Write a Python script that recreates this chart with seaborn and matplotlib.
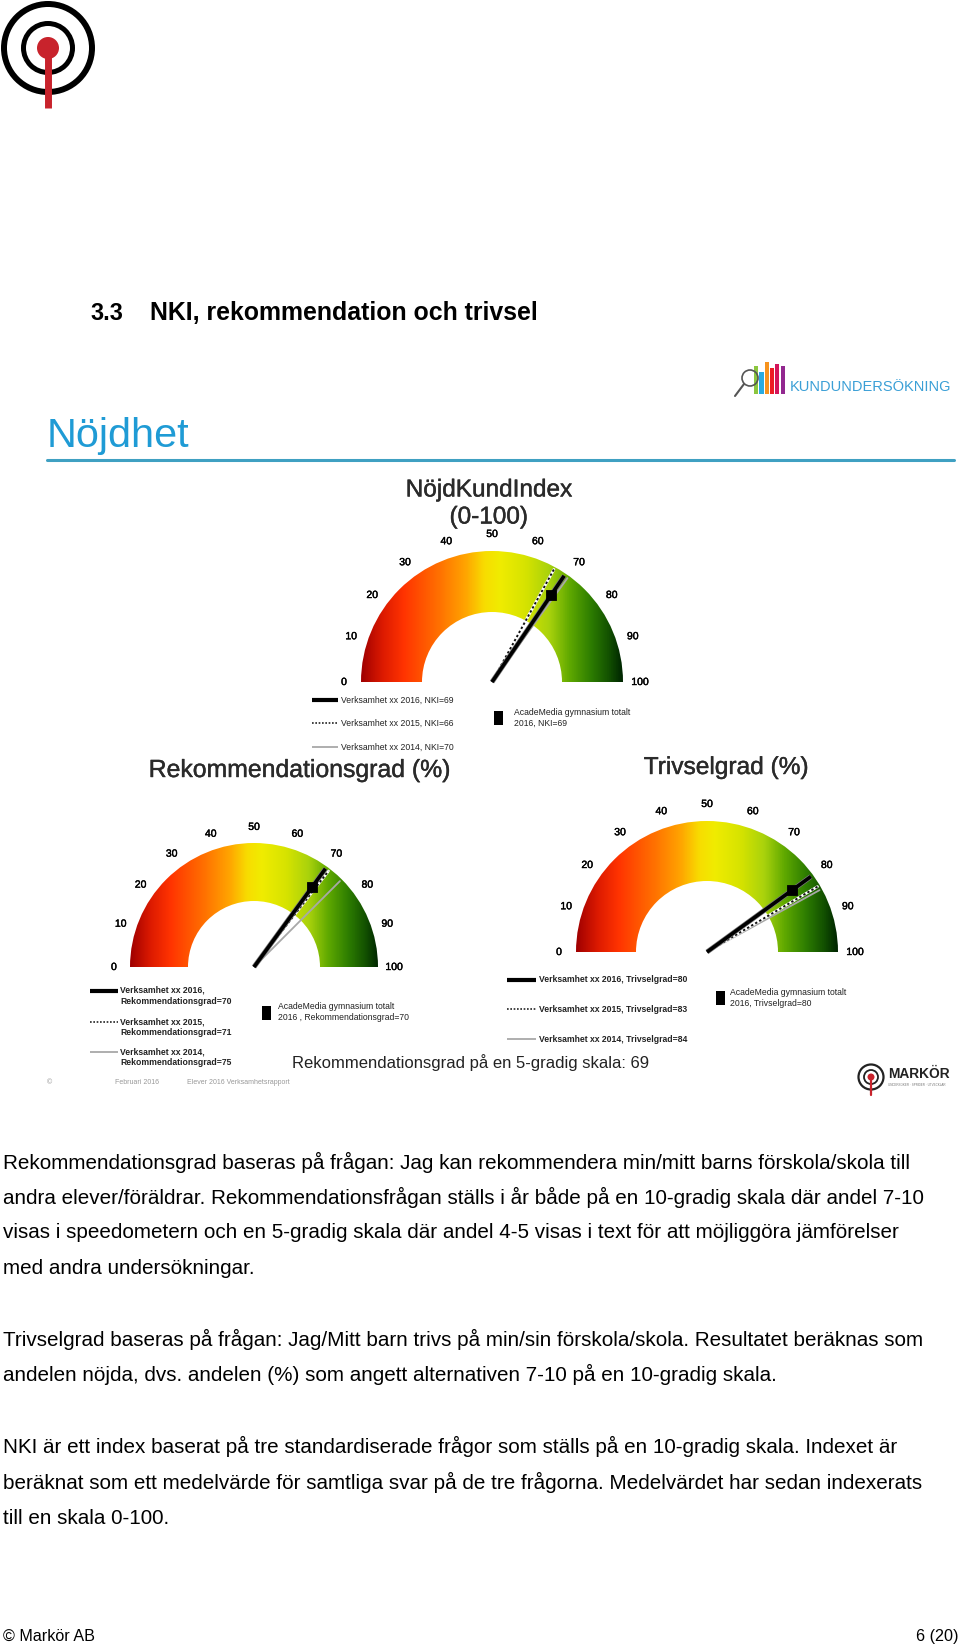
import numpy as np
import pandas as pd
import matplotlib
matplotlib.use("Agg")
import matplotlib.pyplot as plt
import matplotlib.patheffects as pe
import seaborn as sns
from matplotlib.patches import Wedge, Circle, Rectangle
from matplotlib.colors import LinearSegmentedColormap

# ---------------- data ----------------
measure_names = ["NKI", "Rekommendationsgrad", "Trivselgrad"]
gauge_titles = ["NöjdKundIndex\n(0-100)", "Rekommendationsgrad (%)", "Trivselgrad (%)"]
years = ["2016", "2015", "2014"]
values_2016 = [69, 70, 80]
values_2015 = [66, 71, 83]
values_2014 = [70, 75, 84]
academedia_2016 = [69, 70, 80]
tick_values = [0, 10, 20, 30, 40, 50, 60, 70, 80, 90, 100]
rek_5_scale = 69

body_lines = [
    "Rekommendationsgrad baseras på frågan: Jag kan rekommendera min/mitt barns förskola/skola till",
    "andra elever/föräldrar. Rekommendationsfrågan ställs i år både på en 10-gradig skala där andel 7-10",
    "visas i speedometern och en 5-gradig skala där andel 4-5 visas i text för att möjliggöra jämförelser",
    "med andra undersökningar.",
    "Trivselgrad baseras på frågan: Jag/Mitt barn trivs på min/sin förskola/skola. Resultatet beräknas som",
    "andelen nöjda, dvs. andelen (%) som angett alternativen 7-10 på en 10-gradig skala.",
    "NKI är ett index baserat på tre standardiserade frågor som ställs på en 10-gradig skala. Indexet är",
    "beräknat som ett medelvärde för samtliga svar på de tre frågorna. Medelvärdet har sedan indexerats",
    "till en skala 0-100.",
]
body_y = [1162, 1197, 1232, 1268, 1339, 1374, 1446, 1482, 1518]

# ---------------- layout ----------------
W, H = 960, 1647
sns.set_theme(style="white")
plt.rcParams["font.family"] = ["Liberation Sans", "DejaVu Sans"]

fig = plt.figure(figsize=(W / 100, H / 100), dpi=100)
fig.patch.set_facecolor("white")
axp = fig.add_axes([0, 0, 1, 1])
axp.set_xlim(0, W)
axp.set_ylim(H, 0)
axp.axis("off")
renderer = fig.canvas.get_renderer()


def fit(x, y, s, width, ha="left", va="center", ax=None, **kw):
    ax = ax or axp
    t = ax.text(x, y, s, fontsize=10, ha=ha, va=va, **kw)
    w = t.get_window_extent(renderer).width
    t.set_fontsize(10 * width / w)
    return t


# --- top-left logo
axp.add_patch(Circle((48, 48), 44, fill=False, lw=4.3, ec="black"))
axp.add_patch(Circle((48, 48), 24.5, fill=False, lw=3.6, ec="black"))
axp.plot([48, 48], [50, 108], color="#c8232c", lw=5.0, solid_capstyle="butt")
axp.add_patch(Circle((48, 48), 11, color="#c8232c", lw=0))

# --- section title
fit(90, 313, "3.3", 33, fontweight="bold", color="black")
fit(150, 313, "NKI, rekommendation och trivsel", 389, fontweight="bold", color="black")

# --- KUNDUNDERSÖKNING logo
bar_cols = ["#8cc63f", "#29abe2", "#f7931e", "#ed1c24", "#d4145a", "#92278f"]
bar_tops = [366, 372, 362, 368, 364, 366]
for i, (c, t) in enumerate(zip(bar_cols, bar_tops)):
    axp.add_patch(Rectangle((754 + i * 5.3, t), 4.2, 394 - t, color=c, lw=0))
axp.add_patch(Circle((750, 378), 8, fill=False, ec="#555555", lw=1.2))
axp.plot([744, 735], [384, 396], color="#555555", lw=1.5)
fit(790, 387, "KUNDUNDERSÖKNING", 161, color="#3a9fd6", fontstretch="condensed")

# --- Nöjdhet header
fit(47, 436, "Nöjdhet", 143, color="#1f9bd5")
axp.plot([47, 954], [460, 460], color="#3fa0c2", lw=2.2)

# --- gauges
cmap = LinearSegmentedColormap.from_list("gauge", [
    (0.00, "#a00000"), (0.08, "#dc1a00"), (0.16, "#ff3300"), (0.30, "#ff7200"),
    (0.40, "#ffa500"), (0.47, "#f8dc00"), (0.53, "#f0ec00"), (0.63, "#d6e300"),
    (0.72, "#a9d20c"), (0.80, "#5ea800"), (0.88, "#2d7d00"), (0.95, "#125000"),
    (1.00, "#002600")])
grad = np.linspace(0, 1, 400).reshape(1, -1)

geom = [(492, 682, 131, 70), (254, 967, 124, 66), (707, 952, 131, 71)]
title_geom = [(489, 504, 167), (299, 770, 303), (726, 768, 166)]

legend_geom = [
    dict(x0=312, x1=338, tx=341, ys=[700, 723, 747], sq=(498, 718), sqt=(514, 718)),
    dict(x0=90, x1=118, tx=120, ys=[991, 1022, 1052], sq=(266, 1013), sqt=(278, 1012)),
    dict(x0=507, x1=536, tx=539, ys=[980, 1009, 1039], sq=(720, 998), sqt=(730, 998)),
]

title_fx = [pe.withStroke(linewidth=0.3, foreground="#2a2a2a")]


def pt(v, L):
    th = np.pi * (1 - v / 100.0)
    return L * np.cos(th), L * np.sin(th)


for g in range(3):
    cx, cy, R, r = geom[g]
    ax = fig.add_axes([(cx - 1.45 * R) / W, 1 - (cy + 0.15 * R) / H,
                       2.9 * R / W, 1.4 * R / H])
    ax.set_xlim(-1.45, 1.45)
    ax.set_ylim(-0.15, 1.25)
    ax.axis("off")
    ax.patch.set_alpha(0)
    wedge = Wedge((0, 0), 1.0, 0, 180, width=1 - r / R, transform=ax.transData)
    im = ax.imshow(grad, cmap=cmap, extent=(-1, 1, 0, 1), aspect="auto",
                   interpolation="bilinear", zorder=1)
    im.set_clip_path(wedge)
    ax.set_xlim(-1.45, 1.45)
    ax.set_ylim(-0.15, 1.25)

    for tv in tick_values:
        tx, ty = pt(tv, 1.13)
        ax.text(tx, ty, str(tv), fontsize=7.5, ha="center", va="center", color="black",
                path_effects=[pe.withStroke(linewidth=0.3, foreground="black")])

    # needles
    L = 0.98
    x2, y2 = pt(values_2014[g], L)
    sns.lineplot(x=[0, x2], y=[0, y2], sort=False, ax=ax, color="#a8a8a8", lw=1.3, zorder=3)
    x1, y1 = pt(values_2015[g], L)
    sns.lineplot(x=[0, x1], y=[0, y1], sort=False, ax=ax, color="white", lw=2.0, zorder=3)
    sns.lineplot(x=[0, x1], y=[0, y1], sort=False, ax=ax, color="#111111", lw=1.4,
                 linestyle=(0, (1.2, 1.2)), zorder=3)
    x0, y0 = pt(values_2016[g], L)
    sns.lineplot(x=[0, x0], y=[0, y0], sort=False, ax=ax, color="#7a7a7a", lw=3.6, zorder=4,
                 solid_capstyle="butt")
    sns.lineplot(x=[0, x0], y=[0, y0], sort=False, ax=ax, color="black", lw=2.6, zorder=4,
                 solid_capstyle="butt")
    mx, my = pt(academedia_2016[g], 0.80)
    sns.scatterplot(x=[mx], y=[my], marker="s", s=55, color="black", edgecolor="black",
                    ax=ax, zorder=5)

    # title
    tx, ty, tw = title_geom[g]
    fit(tx, ty, gauge_titles[g], tw, ha="center", color="#2a2a2a",
        linespacing=1.3, path_effects=title_fx)

    # legend
    lg = legend_geom[g]
    vals = [values_2016[g], values_2015[g], values_2014[g]]
    styles = [dict(color="black", lw=3.0), dict(color="#222222", lw=1.2, linestyle=(0, (1, 1))),
              dict(color="#a8a8a8", lw=1.3)]
    for k in range(3):
        yk = lg["ys"][k]
        axp.plot([lg["x0"], lg["x1"]], [yk, yk], solid_capstyle="butt", **styles[k])
        if g == 0:
            lab = f"Verksamhet xx {years[k]}, NKI={vals[k]}"
            axp.text(lg["tx"], yk, lab, fontsize=6.2, ha="left", va="center", color="#222222")
        elif g == 1:
            lab = f"Verksamhet xx {years[k]},\nRekommendationsgrad={vals[k]}"
            axp.text(lg["tx"], yk - 5, lab, fontsize=6.2, ha="left", va="top",
                     color="#222222", linespacing=1.25, fontweight="bold")
        else:
            lab = f"Verksamhet xx {years[k]}, Trivselgrad={vals[k]}"
            axp.text(lg["tx"], yk, lab, fontsize=6.2, ha="left", va="center",
                     color="#222222", fontweight="bold")
    sx, sy = lg["sq"]
    axp.add_patch(Rectangle((sx - 4.5, sy - 7), 9, 14, color="black", lw=0))
    name = "NKI" if g == 0 else measure_names[g]
    sep = ", " if g != 1 else " , "
    axp.text(lg["sqt"][0], lg["sqt"][1],
             f"AcadeMedia gymnasium totalt\n2016{sep}{name}={academedia_2016[g]}",
             fontsize=6.2, ha="left", va="center", color="#222222", linespacing=1.3)

# --- 5-gradig text
fit(292, 1063, f"Rekommendationsgrad på en 5-gradig skala: {rek_5_scale}", 357, color="#222222")

# --- infographic footer
axp.text(47, 1083, "©", fontsize=5, color="#999999", va="center")
axp.text(115, 1083, "Februari 2016", fontsize=5, color="#999999", va="center")
axp.text(187, 1083, "Elever 2016 Verksamhetsrapport", fontsize=5, color="#999999", va="center")

# --- MARKÖR logo
axp.add_patch(Circle((871, 1077), 12.5, fill=False, lw=1.6, ec="#222222"))
axp.add_patch(Circle((871, 1077), 7, fill=False, lw=1.3, ec="#222222"))
axp.plot([871, 871], [1078, 1095], color="#c8232c", lw=1.6)
axp.add_patch(Circle((871, 1077), 3.5, color="#c8232c", lw=0))
fit(888, 1074, "MARKÖR", 62, color="#222222", fontweight="bold")
axp.text(888, 1085, "UNDERSÖKER · SPRIDER · UTVECKLAR", fontsize=2.2, color="#777777", va="center")

# --- body text
probe = axp.text(3, body_y[0], body_lines[0], fontsize=10, va="center")
bw = probe.get_window_extent(renderer).width
fs = 10 * 911 / bw
probe.remove()
for s, y in zip(body_lines, body_y):
    axp.text(3, y, s, fontsize=fs, ha="left", va="center", color="black")

# --- page footer
axp.text(3, 1636, "© Markör AB", fontsize=fs * 0.78, ha="left", va="center", color="black")
axp.text(958, 1636, "6 (20)", fontsize=fs * 0.78, ha="right", va="center", color="black")

fig.savefig("out.png", dpi=100, facecolor="white")
